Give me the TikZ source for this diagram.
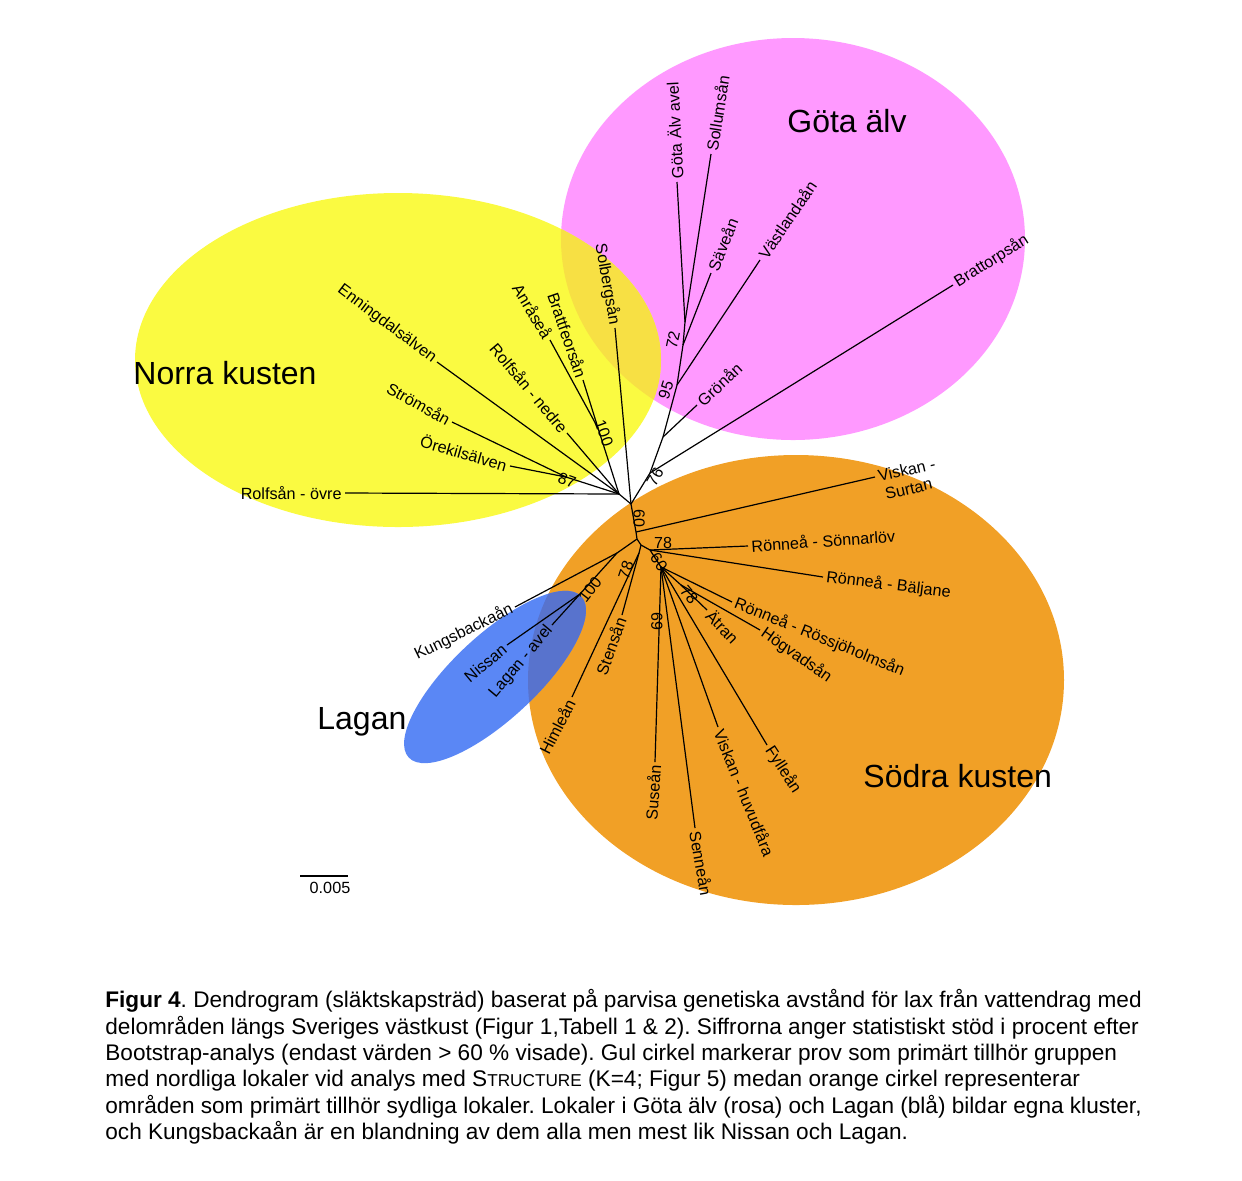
\documentclass[tikz,border=0pt]{standalone}
\usepackage{fontspec}
\setmainfont{Liberation Sans}
\usetikzlibrary{positioning}
\frenchspacing

\definecolor{norr}{RGB}{250,250,65}
\definecolor{gota}{RGB}{255,153,255}
\definecolor{norrgota}{RGB}{247,224,68}
\definecolor{sodra}{RGB}{241,160,38}
\definecolor{lagan}{RGB}{90,135,245}
\definecolor{lagansodra}{RGB}{88,115,205}

\tikzset{
  leaf/.style={font=\fontsize{8.1}{9.5}\selectfont, inner sep=1.5pt},
  boot/.style={font=\fontsize{8}{9}\selectfont, inner sep=0pt},
  group/.style={font=\fontsize{16}{19}\selectfont, inner sep=0pt},
  branch/.style={line width=0.6pt},
  caption/.style={font=\fontsize{11.3}{13.2}\selectfont, align=left, inner sep=0pt},
}

\begin{document}
\begin{tikzpicture}[x=0.5pt,y=-0.5pt]
\useasboundingbox (0,0) rectangle (1242,1180);

% Clusters
\fill[gota] (793,239) ellipse [x radius=232, y radius=201];
\fill[norr] (398,360) ellipse [x radius=263, y radius=167];
\begin{scope}
  \clip (398,360) ellipse [x radius=263, y radius=167];
  \fill[norrgota] (793,239) ellipse [x radius=232, y radius=201];
\end{scope}
\fill[sodra] (796,680) ellipse [x radius=268, y radius=225];
\fill[lagan, rotate around={43:(495,677)}] (495,677) ellipse [x radius=118, y radius=42];
\begin{scope}
  \clip (796,680) ellipse [x radius=268, y radius=225];
  \fill[lagansodra, rotate around={43:(495,677)}] (495,677) ellipse [x radius=118, y radius=42];
\end{scope}

\node[group, anchor=base west] (norra) at (133,384) {Norra kusten};
\node[group, anchor=base west] (gotaalv) at (787,132) {Göta älv};
\node[group, anchor=base west] (sodrak) at (863,787) {Södra kusten};
\node[group, anchor=base west] (laganl) at (317,729) {Lagan};

% Inner nodes
\coordinate (root) at (631,504);
\coordinate (nN)   at (619,494);
\coordinate (n87)  at (566,477);
\coordinate (n100) at (598,428);
\coordinate (g76)  at (650,473);
\coordinate (ggr)  at (663,437);
\coordinate (g95)  at (677,385);
\coordinate (g72)  at (683,345);
\coordinate (g1)   at (685,322);
\coordinate (s1)   at (636,532);
\coordinate (sk)   at (637,539);
\coordinate (sb)   at (641,545);
\coordinate (s2)   at (650,550);
\coordinate (s3)   at (661,567);
\coordinate (k1)   at (617,553);
\coordinate (l100) at (580,594);
\coordinate (t78)  at (639,553);
\coordinate (h78)  at (681,585);

% Leaves, north
\node[leaf, rotate=-37, anchor=east] (enn) at (437,362) {Enningdalsälven};
\node[leaf, rotate=-29, anchor=east] (str) at (452,422) {Strömsån};
\node[leaf, rotate=-16, anchor=east] (ore) at (510,466) {Örekilsälven};
\node[leaf, anchor=east] (rov) at (345,493) {Rolfsån - övre};
\node[leaf, rotate=-50, anchor=east] (rne) at (567,433) {Rolfsån - nedre};
\node[leaf, rotate=-59, anchor=east] (anr) at (550,340) {Anråseå};
\node[leaf, rotate=-71, anchor=east] (bfo) at (583,380) {Brattfeorsån};
\node[leaf, rotate=-80, anchor=east] (sol) at (615,328) {Solbergsån};

% Leaves, Göta älv
\node[leaf, rotate=93, anchor=west] (gav) at (677,182) {Göta Älv avel};
\node[leaf, rotate=81, anchor=west] (sll) at (711,154) {Sollumsån};
\node[leaf, rotate=68, anchor=west] (sav) at (711,273) {Säveån};
\node[leaf, rotate=56, anchor=west] (vas) at (760,260) {Västlandaån};
\node[leaf, rotate=32, anchor=west] (bto) at (953,285) {Brattorpsån};
\node[leaf, rotate=43, anchor=west] (gro) at (697,405) {Grönån};

% Leaves, south
\node[leaf, rotate=13, anchor=west] (vsu) at (875,477) {Viskan -};
\node[leaf, rotate=13, anchor=north west] (vsu2) at ([xshift=1.5pt]vsu.south west) {Surtan};
\node[leaf, rotate=4, anchor=west] (rso) at (748,546) {Rönneå - Sönnarlöv};
\node[leaf, rotate=-7, anchor=west] (rba) at (823,577) {Rönneå - Bäljane};
\node[leaf, rotate=-22, anchor=west] (rro) at (732,602) {Rönneå - Rössjöholmsån};
\node[leaf, rotate=-35, anchor=west] (hog) at (760,630) {Högvadsån};
\node[leaf, rotate=-46, anchor=west] (atr) at (707,610) {Ätran};
\node[leaf, rotate=-57, anchor=west] (fyl) at (767,745) {Fylleån};
\node[leaf, rotate=-68, anchor=west] (vhu) at (718,727) {Viskan - huvudfåra};
\node[leaf, rotate=-80, anchor=west] (sen) at (695,828) {Senneån};
\node[leaf, rotate=86, anchor=east] (sus) at (655,762) {Suseån};
\node[leaf, rotate=63, anchor=east] (him) at (572,697) {Himleån};
\node[leaf, rotate=70, anchor=east] (ste) at (622,615) {Stensån};
\node[leaf, rotate=50, anchor=east] (lav) at (552,625) {Lagan - avel};
\node[leaf, rotate=40, anchor=east] (nis) at (507,645) {Nissan};
\node[leaf, rotate=26, anchor=east] (kun) at (515,607) {Kungsbackaån};

% Branches
\draw[branch] (root) -- (nN);
\draw[branch] (nN) -- (rov.east);
\draw[branch] (nN) -- (n87) -- (str.east);
\draw[branch] (n87) -- (ore.east);
\draw[branch] (nN) -- (enn.east);
\draw[branch] (nN) -- (rne.east);
\draw[branch] (nN) -- (n100) -- (anr.east);
\draw[branch] (n100) -- (bfo.east);
\draw[branch] (root) -- (sol.east);

\draw[branch] (root) -- (g76) -- (ggr) -- (g95) -- (g72) -- (g1) -- (gav.west);
\draw[branch] (g1) -- (sll.west);
\draw[branch] (g72) -- (sav.west);
\draw[branch] (g95) -- (vas.west);
\draw[branch] (ggr) -- (gro.west);
\draw[branch] (g76) -- (bto.west);

\draw[branch] (root) -- (s1) -- (sk) -- (sb) -- (s2) -- (s3);
\draw[branch] (s1) -- (vsu.west);
\draw[branch] (s2) -- (rso.west);
\draw[branch] (s2) -- (rba.west);
\draw[branch] (s3) -- (rro.west);
\draw[branch] (s3) -- (h78) -- (atr.west);
\draw[branch] (h78) -- (hog.west);
\draw[branch] (s3) -- (fyl.west);
\draw[branch] (s3) -- (vhu.west);
\draw[branch] (s3) -- (sen.west);
\draw[branch] (s3) -- (sus.east);
\draw[branch] (sb) -- (t78) -- (ste.east);
\draw[branch] (t78) -- (him.east);
\draw[branch] (sk) -- (k1) -- (kun.east);
\draw[branch] (k1) -- (l100) -- (nis.east);
\draw[branch] (l100) -- (lav.east);

% Bootstrap values
\node[boot, rotate=-20] (b87) at (567,480) {87};
\node[boot, rotate=-70] (b100n) at (604,433) {100};
\node[boot, rotate=78] (b72) at (673,340) {72};
\node[boot, rotate=72] (b95) at (666,390) {95};
\node[boot, rotate=60] (b76) at (655,477) {76};
\node[boot, rotate=-90] (b60a) at (639,518) {60};
\node[boot] (b78a) at (663,543) {78};
\node[boot, rotate=-55] (b60b) at (659,562) {60};
\node[boot, rotate=-50] (b78b) at (689,595) {78};
\node[boot, rotate=-90] (b69) at (657,621) {69};
\node[boot, rotate=72] (b78c) at (626,570) {78};
\node[boot, rotate=52] (b100s) at (590,590) {100};

% Scale bar
\coordinate (scaleL) at (300,876);
\coordinate (scaleR) at (348,876);
\draw[branch] (scaleL) -- (scaleR);
\node[leaf] (scalev) at (330,888) {0.005};

% Caption
\node[caption, anchor=north west] (cap) at (105,989) {\textbf{Figur 4}. Dendrogram (släktskapsträd) baserat på parvisa genetiska avstånd för lax från vattendrag med\\
delområden längs Sveriges västkust (Figur 1,Tabell 1 \& 2). Siffrorna anger statistiskt stöd i procent efter\\
Bootstrap-analys (endast värden > 60 \% visade). Gul cirkel markerar prov som primärt tillhör gruppen\\
med nordliga lokaler vid analys med S{\fontsize{8.6}{13.2}\selectfont TRUCTURE} (K=4; Figur 5) medan orange cirkel representerar\\
områden som primärt tillhör sydliga lokaler. Lokaler i Göta älv (rosa) och Lagan (blå) bildar egna kluster,\\
och Kungsbackaån är en blandning av dem alla men mest lik Nissan och Lagan.};

\end{tikzpicture}
\end{document}
